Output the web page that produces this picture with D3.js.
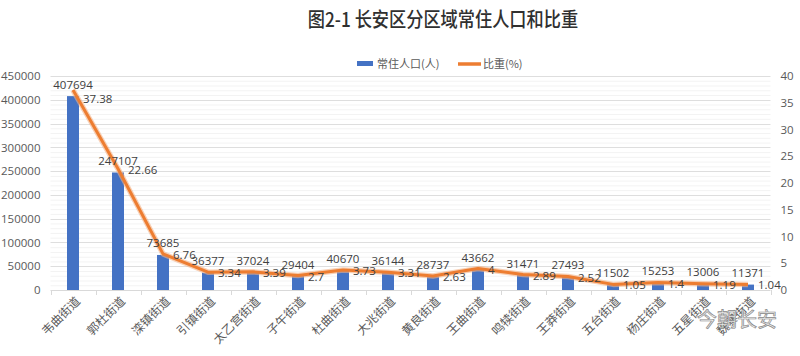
<!DOCTYPE html>
<html><head><meta charset="utf-8">
<script src="https://cdn.jsdelivr.net/npm/d3@7/dist/d3.min.js"></script>
<style>
body{margin:0;background:#fff;}
svg{display:block;font-family:"Noto Sans CJK SC","Noto Sans",sans-serif;}
</style></head>
<body><svg id="c" width="800" height="356"></svg>
<script>
const categories = ["韦曲街道","郭杜街道","滦镇街道","引镇街道","太乙宫街道","子午街道","杜曲街道","大兆街道","黄良街道","王曲街道","鸣犊街道","王莽街道","五台街道","杨庄街道","五星街道","魏寨街道"];
const population = [407694,247107,73685,36377,37024,29404,40670,36144,28737,43662,31471,27493,11502,15253,13006,11371];
const share = [37.38,22.66,6.76,3.34,3.39,2.7,3.73,3.31,2.63,4,2.89,2.52,1.05,1.4,1.19,1.04];
const leftTicks = [0,50000,100000,150000,200000,250000,300000,350000,400000,450000];
const rightTicks = [0,5,10,15,20,25,30,35,40];
const title = "图2-1 长安区分区域常住人口和比重";
const legendLabels = ["常住人口(人)","比重(%)"];

const svg = d3.select("#c");
const L = 50.5, R = 770.5, T = 76, B = 290;
const x = d3.scaleBand().domain(categories).range([L, R]);
const yL = d3.scaleLinear().domain([0,450000]).range([B, T]);
const yR = d3.scaleLinear().domain([0,40]).range([B, T]);
const blue = "#4472C4", orange = "#ED7D31", txt = "#595959";

// title
svg.append("text").attr("x", 443).attr("y", 27).attr("text-anchor","middle")
  .attr("font-size", 20).attr("font-weight", 500).attr("fill","#303030")
  .attr("transform","translate(443,0) scale(0.86,1) translate(-443,0)")
  .text(title);

// minor grid
const minor = d3.range(0, 450001, 10000).filter(v => v % 50000 !== 0);
svg.append("g").selectAll("line").data(minor).join("line")
  .attr("x1", L).attr("x2", R).attr("y1", d => yL(d)+0.5).attr("y2", d => yL(d)+0.5)
  .attr("stroke","#f3f3f3").attr("stroke-width",1);
// major grid
svg.append("g").selectAll("line").data(leftTicks.filter(d=>d>0)).join("line")
  .attr("x1", L).attr("x2", R).attr("y1", d => Math.round(yL(d))+0.5).attr("y2", d => Math.round(yL(d))+0.5)
  .attr("stroke","#dedede").attr("stroke-width",1);

// left axis
const gl = svg.append("g").attr("transform", `translate(${L},0)`)
  .call(d3.axisLeft(yL).tickValues(leftTicks).tickSize(0).tickPadding(10).tickFormat(d3.format("d")));
gl.select(".domain").remove();
gl.selectAll("text").attr("font-size", 11.5).attr("fill", txt).attr("font-family","\"Open Sans\",\"Noto Sans\",sans-serif");

// right axis
const gr = svg.append("g").attr("transform", `translate(${R},0)`)
  .call(d3.axisRight(yR).tickValues(rightTicks).tickSize(0).tickPadding(10));
gr.select(".domain").remove();
gr.selectAll("text").attr("font-size", 11.5).attr("fill", txt).attr("font-family","\"Open Sans\",\"Noto Sans\",sans-serif");

// bars
const bw = 12;
svg.append("g").selectAll("rect").data(categories).join("rect")
  .attr("x", (d) => x(d) + x.bandwidth()/2 - bw/2)
  .attr("width", bw)
  .attr("y", (d,i) => yL(population[i]))
  .attr("height", (d,i) => B - yL(population[i]))
  .attr("fill", blue);

// bottom axis
svg.append("line").attr("x1", L).attr("x2", R).attr("y1", B+0.5).attr("y2", B+0.5).attr("stroke","#d9d9d9");
svg.append("g").selectAll("line").data(d3.range(categories.length+1)).join("line")
  .attr("x1", i => Math.round(L + i*x.bandwidth())+0.5).attr("x2", i => Math.round(L + i*x.bandwidth())+0.5)
  .attr("y1", B).attr("y2", B+5).attr("stroke","#d9d9d9");
svg.append("g").selectAll("text").data(categories).join("text")
  .attr("transform", d => `translate(${x(d)+x.bandwidth()/2+5},${B+9}) rotate(-45)`)
  .attr("text-anchor","end").attr("dy","0.35em")
  .attr("font-size", 12).attr("fill", txt).text(d => d);

// line
const line = d3.line().x((d,i) => x(categories[i]) + x.bandwidth()/2).y(d => yR(d));
svg.append("path").datum(share).attr("d", line).attr("fill","none")
  .attr("stroke","#f4b183").attr("stroke-width",5.5).attr("stroke-linejoin","round").attr("opacity",0.6);
svg.append("path").datum(share).attr("d", line).attr("fill","none")
  .attr("stroke", orange).attr("stroke-width",3).attr("stroke-linejoin","round");

// bar labels
svg.append("g").selectAll("text").data(population).join("text")
  .attr("x", (d,i) => x(categories[i]) + x.bandwidth()/2)
  .attr("y", d => yL(d) - 11.5).attr("dy","0.35em")
  .attr("text-anchor","middle").attr("font-size", 11.5).attr("fill","#404040")
  .attr("font-family","\"Open Sans\",\"Noto Sans\",sans-serif")
  .text(d => d);

// line labels
svg.append("g").selectAll("text").data(share).join("text")
  .attr("x", (d,i) => x(categories[i]) + x.bandwidth()/2 + 10)
  .attr("y", (d,i) => yR(d) + (i===0 ? 9 : 1)).attr("dy","0.35em")
  .attr("font-size", 11.5).attr("fill","#404040")
  .attr("font-family","\"Open Sans\",\"Noto Sans\",sans-serif")
  .text(d => d);

// legend
const lg = svg.append("g");
lg.append("rect").attr("x",357).attr("y",61).attr("width",16).attr("height",5).attr("fill",blue);
lg.append("text").attr("x",377).attr("y",64).attr("dy","0.35em").attr("font-size",11).attr("fill",txt).text(legendLabels[0]);
lg.append("line").attr("x1",458).attr("x2",481).attr("y1",64).attr("y2",64).attr("stroke",orange).attr("stroke-width",3.5);
lg.append("text").attr("x",483).attr("y",64).attr("dy","0.35em").attr("font-size",11).attr("fill",txt).text(legendLabels[1]);

// watermark
svg.append("text").attr("x",697).attr("y",327).attr("font-size",20).attr("fill","#eeeeee")
  .attr("stroke","#888").attr("stroke-width",0.7).text("今朝长安");
</script></body></html>
